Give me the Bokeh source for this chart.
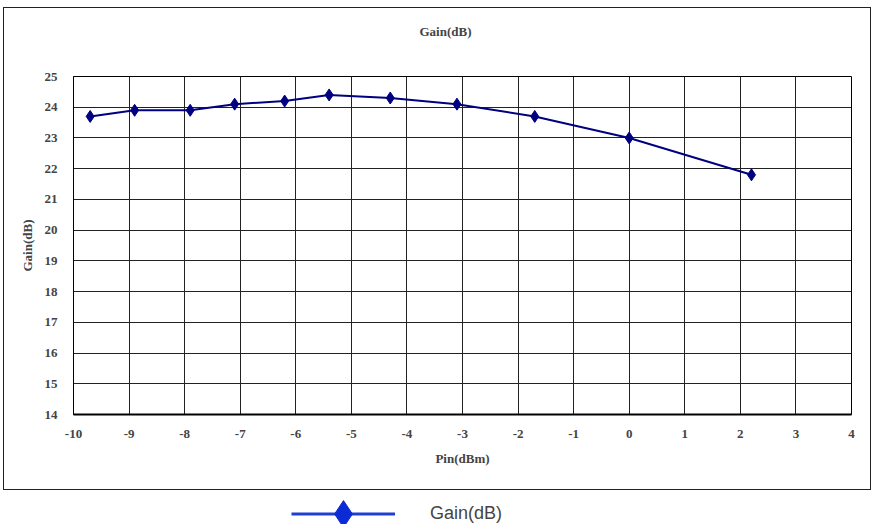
from bokeh.plotting import figure
from bokeh.models import (ColumnDataSource, Legend, LegendItem, FixedTicker, Range1d, Title)
from bokeh.layouts import column
from bokeh.embed import file_html
from bokeh.resources import INLINE

# ---- data ----
pin_dbm = [-9.7, -8.9, -7.9, -7.1, -6.2, -5.4, -4.3, -3.1, -1.7, 0.0, 2.2]
gain_db = [23.7, 23.9, 23.9, 24.1, 24.2, 24.4, 24.3, 24.1, 23.7, 23.0, 21.8]
x_ticks = list(range(-10, 5))
y_ticks = list(range(14, 26))
title_text = "Gain(dB)"
x_label = "Pin(dBm)"
y_label = "Gain(dB)"
series_name = "Gain(dB)"

src = ColumnDataSource(dict(x=pin_dbm, y=gain_db))
serif = "Liberation Serif"

W1, H1 = 866, 481
p = figure(width=W1, height=H1, output_backend="svg", toolbar_location=None,
           x_range=Range1d(-10, 4), y_range=Range1d(14, 25),
           min_border_left=69, min_border_right=19, min_border_top=68,
           min_border_bottom=75)
p.margin = (8, 0, 0, 4)
p.styles = {"outline": "1px solid #222222", "outline-offset": "0px"}

# spacer between the frame and the chart title, then the title itself
p.add_layout(Title(text=" ", text_font=serif, text_font_size="13px", standoff=16), "above")
p.add_layout(Title(text=title_text, text_font=serif, text_font_style="bold",
                   text_font_size="13px", align="left", offset=346, standoff=10), "above")

for ax in (p.xaxis, p.yaxis):
    ax.major_label_text_font = serif
    ax.major_label_text_font_style = "bold"
    ax.major_label_text_font_size = "13px"
    ax.axis_label_text_font = serif
    ax.axis_label_text_font_style = "bold"
    ax.axis_label_text_font_size = "13px"
    ax.major_tick_line_color = None
    ax.minor_tick_line_color = None
    ax.major_tick_out = 0
    ax.major_tick_in = 0
    ax.minor_tick_out = 0
    ax.minor_tick_in = 0
    ax.axis_line_color = "black"

p.xaxis.ticker = FixedTicker(ticks=x_ticks)
p.yaxis.ticker = FixedTicker(ticks=y_ticks)
p.xaxis.major_label_overrides = {t: str(t) for t in x_ticks}
p.yaxis.major_label_overrides = {t: str(t) for t in y_ticks}
p.xaxis.axis_label = x_label
p.yaxis.axis_label = y_label
p.xaxis.axis_line_width = 2
p.xaxis.major_label_standoff = 15
p.xaxis.axis_label_standoff = 10
p.yaxis.major_label_standoff = 16
p.yaxis.axis_label_standoff = 7
p.yaxis.major_label_orientation = "horizontal"

p.xgrid.ticker = FixedTicker(ticks=x_ticks)
p.ygrid.ticker = FixedTicker(ticks=y_ticks)
for g in (p.xgrid, p.ygrid):
    g.grid_line_color = "#222222"
    g.grid_line_width = 1
    g.grid_line_alpha = 1

p.outline_line_color = "black"
p.outline_line_width = 1
p.background_fill_color = "white"
p.border_fill_color = "white"

navy = "#000080"
p.line("x", "y", source=src, line_color=navy, line_width=2)
p.scatter("x", "y", source=src, marker="diamond", size=12,
          fill_color=navy, line_color=navy)

# ---- legend strip below the chart frame ----
W2, H2 = 870, 35
p2 = figure(width=W2, height=H2, output_backend="svg", toolbar_location=None,
            x_range=Range1d(-10, 4), y_range=Range1d(14, 25),
            min_border=0, min_border_left=0, min_border_right=0,
            min_border_top=0, min_border_bottom=0)
p2.axis.visible = False
p2.grid.visible = False
p2.outline_line_color = None
p2.background_fill_alpha = 0
p2.border_fill_alpha = 0

lg_line = p2.line("x", "y", source=src, line_color="#1f3fd1", line_width=3, visible=False)
lg_mark = p2.scatter("x", "y", source=src, marker="diamond", size=27,
                     fill_color="#0b2bd6", line_color="#0b2bd6", visible=False)

legend = Legend(items=[LegendItem(label=series_name, renderers=[lg_line, lg_mark])],
                location=(222, -23), glyph_width=104, glyph_height=67,
                label_standoff=35, label_text_font="Liberation Sans",
                label_text_font_size="18px", label_height=24,
                border_line_color=None, background_fill_alpha=0,
                inactive_fill_alpha=0, padding=0, margin=0, spacing=0)
p2.add_layout(legend, "center")

layout = column(p, p2, spacing=0)
open("out.html", "w").write(file_html(layout, INLINE))
